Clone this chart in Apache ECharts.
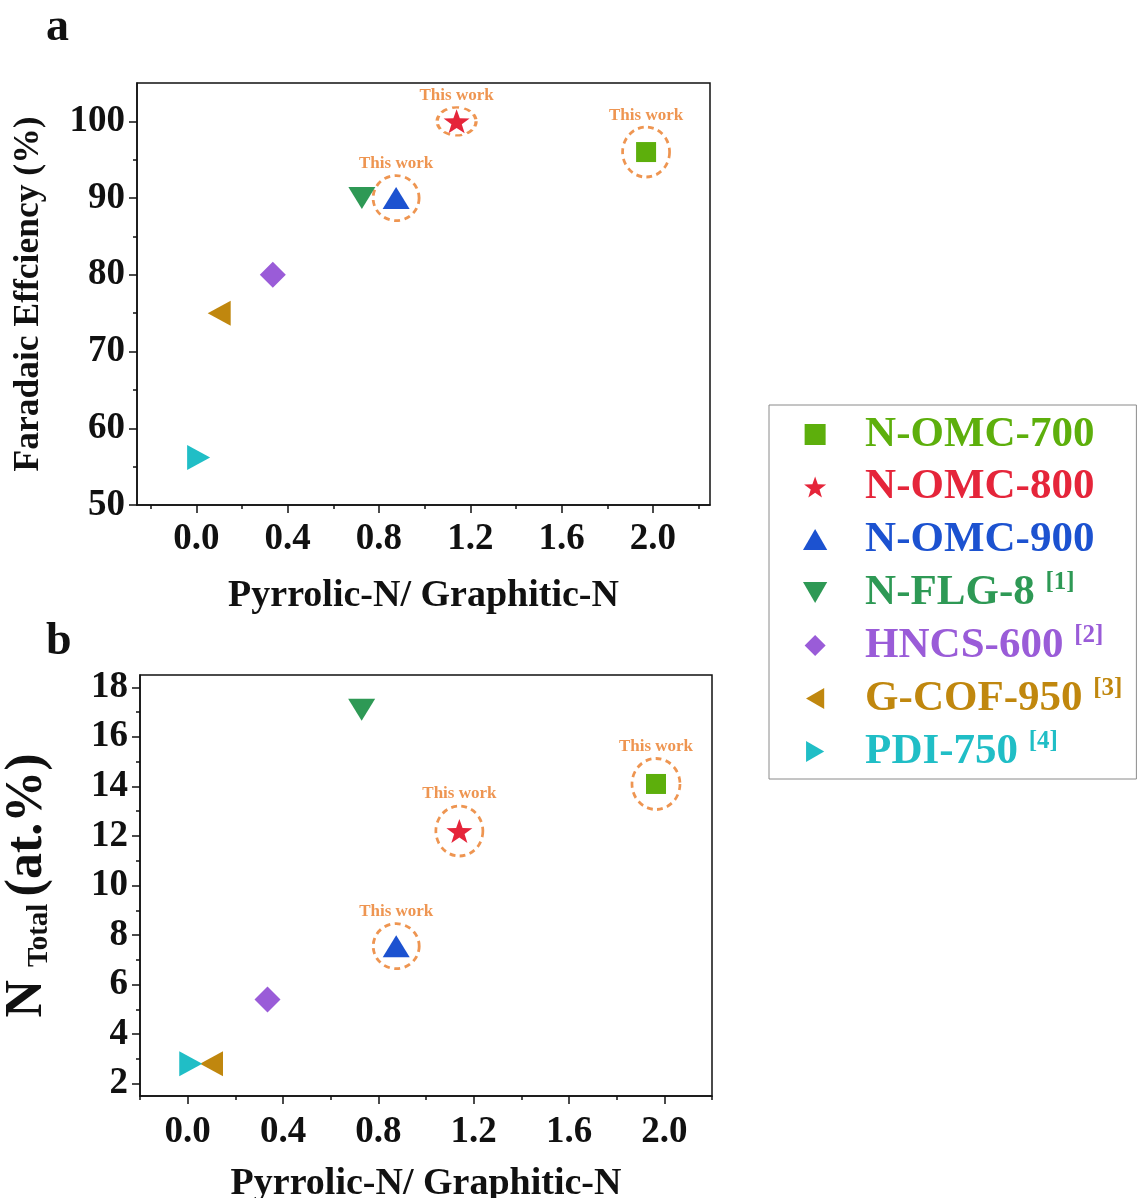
<!DOCTYPE html>
<html>
<head>
<meta charset="utf-8">
<script src="https://cdn.jsdelivr.net/npm/echarts@6/dist/echarts.min.js"></script>
<style>
html,body{margin:0;padding:0;background:#fff;}
#chart{width:1138px;height:1198px;}
</style>
</head>
<body>
<div id="chart"></div>
<script>
// ---------- data ----------
const materials = ['N-OMC-700', 'N-OMC-800', 'N-OMC-900', 'N-FLG-8', 'HNCS-600', 'G-COF-950', 'PDI-750'];
const refTags = ['', '', '', '[1]', '[2]', '[3]', '[4]'];
const thisWork = [true, true, true, false, false, false, false];
// panel a
const pyrrolicRatioA = [1.97, 1.14, 0.875, 0.725, 0.335, 0.10, 0.01];
const faradaicEfficiency = [96.0, 100.0, 90.0, 90.0, 80.0, 75.0, 56.2];
// panel b
const pyrrolicRatioB = [1.965, 1.14, 0.875, 0.73, 0.335, 0.10, 0.013];
const nTotal = [14.1, 12.2, 7.55, 17.1, 5.4, 2.8, 2.8];
// tick labels
const xMajorTicks = [0.0, 0.4, 0.8, 1.2, 1.6, 2.0];
const xMinorTicks = [-0.2, 0.2, 0.6, 1.0, 1.4, 1.8, 2.2];
const yMajorTicksA = [50, 60, 70, 80, 90, 100];
const yMinorTicksA = [55, 65, 75, 85, 95];
const yMajorTicksB = [2, 4, 6, 8, 10, 12, 14, 16, 18];
const yMinorTicksB = [3, 5, 7, 9, 11, 13, 15, 17];

// ---------- styles ----------
const FONT = "'Liberation Serif', 'Times New Roman', serif";
const colors = ['#5DAF0C', '#E5253A', '#1C52D0', '#2E9955', '#9A5CD8', '#C0870E', '#20BEC6'];
const ORANGE = '#EA7A25';
const STAR = 'path://M0,-10L2.35,-3.24L9.51,-3.09L3.8,1.24L5.88,8.09L0,4L-5.88,8.09L-3.8,1.24L-9.51,-3.09L-2.35,-3.24Z';
const symbols = [
  'path://M0,0H10V10H0Z',
  STAR,
  'path://M5,0L10,8.66L0,8.66Z',
  'path://M0,0L10,0L5,8.66Z',
  'path://M5,0L10,5L5,10L0,5Z',
  'path://M8.66,0L8.66,10L0,5Z',
  'path://M0,0L0,10L8.66,5Z'
];
const symbolSizes = [[20, 20], [26, 24], [27, 22], [27, 22], [26, 26], [23, 25], [23, 25]];
const circleSizesA = [[47, 50], [39, 28], [46, 45]];
const circleSizesB = [[48, 51], [47, 50], [46, 45]];

const axisColor = '#111';
function xAxes(g, min, max, labelMargin, nameGap) {
  return [{
    type: 'value', gridIndex: g, min: min, max: max, position: 'bottom',
    axisLine: {show: true, onZero: false, lineStyle: {color: axisColor, width: 1.5}},
    axisTick: {show: true, length: 8, lineStyle: {color: axisColor, width: 1.5}, customValues: xMajorTicks},
    axisLabel: {show: true, customValues: xMajorTicks, formatter: v => v.toFixed(1), margin: labelMargin,
      fontSize: 37, fontWeight: 'bold', color: axisColor, fontFamily: FONT},
    splitLine: {show: false},
    name: 'Pyrrolic-N/ Graphitic-N', nameLocation: 'middle', nameGap: nameGap,
    nameTextStyle: {fontSize: 38, fontWeight: 'bold', color: axisColor, fontFamily: FONT}
  }, {
    type: 'value', gridIndex: g, min: min, max: max, position: 'bottom',
    axisLine: {show: false, onZero: false},
    axisTick: {show: true, length: 4, lineStyle: {color: axisColor, width: 1.5}, customValues: xMinorTicks},
    axisLabel: {show: false}, splitLine: {show: false}
  }];
}
function yAxes(g, min, max, major, minor, name, nameGap, nameStyle) {
  return [{
    type: 'value', gridIndex: g, min: min, max: max, position: 'left',
    axisLine: {show: true, onZero: false, lineStyle: {color: axisColor, width: 1.5}},
    axisTick: {show: true, length: 8, lineStyle: {color: axisColor, width: 1.5}, customValues: major},
    axisLabel: {show: true, customValues: major, margin: 12,
      fontSize: 37, fontWeight: 'bold', color: axisColor, fontFamily: FONT},
    splitLine: {show: false},
    name: name, nameLocation: 'middle', nameRotate: 90, nameGap: nameGap, nameTextStyle: nameStyle
  }, {
    type: 'value', gridIndex: g, min: min, max: max, position: 'left',
    axisLine: {show: false, onZero: false},
    axisTick: {show: true, length: 4, lineStyle: {color: axisColor, width: 1.5}, customValues: minor},
    axisLabel: {show: false}, splitLine: {show: false}
  }];
}

const series = [];
function addPanel(g, xs, ys, circleSizes) {
  // dashed "This work" circles
  const cData = [];
  let k = 0;
  materials.forEach((m, i) => {
    if (thisWork[i]) { cData.push({value: [xs[i], ys[i]], symbolSize: circleSizes[k]}); k++; }
  });
  series.push({
    type: 'scatter', name: 'This work ' + g, xAxisIndex: g * 2, yAxisIndex: g * 2,
    data: cData, symbol: 'circle', silent: true, z: 1,
    itemStyle: {color: 'rgba(0,0,0,0)', borderColor: ORANGE, borderWidth: 2.8, borderType: [6, 4.5]},
    label: {show: true, position: 'top', distance: 2, formatter: 'This work', color: ORANGE,
      fontSize: 17, fontWeight: 'bold', fontFamily: FONT}
  });
  materials.forEach((m, i) => {
    series.push({
      type: 'scatter', name: m, xAxisIndex: g * 2, yAxisIndex: g * 2, z: 3,
      symbol: symbols[i], symbolSize: symbolSizes[i],
      itemStyle: {color: colors[i], opacity: 1},
      data: [[xs[i], ys[i]]]
    });
  });
}
addPanel(0, pyrrolicRatioA, faradaicEfficiency, circleSizesA);
addPanel(1, pyrrolicRatioB, nTotal, circleSizesB);

const rich = {};
colors.forEach((c, i) => {
  rich['m' + i] = {color: c, fontSize: 43, fontWeight: 'bold', fontFamily: FONT, lineHeight: 44};
  rich['s' + i] = {color: c, fontSize: 25, fontWeight: 'bold', fontFamily: FONT, lineHeight: 24, verticalAlign: 'top'};
});

const option = {
  animation: false,
  backgroundColor: '#fff',
  title: [
    {text: 'a', left: 46, top: 5, padding: 0, textStyle: {fontSize: 46, fontWeight: 'bold', color: '#111', fontFamily: FONT}},
    {text: 'b', left: 46, top: 619, padding: 0, textStyle: {fontSize: 46, fontWeight: 'bold', color: '#111', fontFamily: FONT}}
  ],
  grid: [
    {left: 137, top: 83, width: 573, height: 422, show: true, borderColor: axisColor, borderWidth: 1.5,
      containLabel: false, outerBoundsMode: 'none'},
    {left: 140, top: 675, width: 572, height: 421, show: true, borderColor: axisColor, borderWidth: 1.5,
      containLabel: false, outerBoundsMode: 'none'}
  ],
  xAxis: [].concat(xAxes(0, -0.26, 2.25, 16, 72), xAxes(1, -0.2, 2.2, 18, 69)),
  yAxis: [].concat(
    yAxes(0, 50, 105, yMajorTicksA, yMinorTicksA, 'Faradaic Effciency (%)', 90,
      {fontSize: 35.5, fontWeight: 'bold', color: axisColor, fontFamily: FONT}),
    yAxes(1, 1.5, 18.5, yMajorTicksB, yMinorTicksB, '{n|N }{t|Total }{n|(at.%)}', 86,
      {color: axisColor, rich: {
        n: {fontSize: 52, fontWeight: 'bold', color: axisColor, fontFamily: FONT, lineHeight: 56, verticalAlign: 'bottom'},
        t: {fontSize: 29, fontWeight: 'bold', color: axisColor, fontFamily: FONT, lineHeight: 32, verticalAlign: 'bottom'}
      }})
  ),
  legend: {
    orient: 'vertical', left: 769, top: 405,
    padding: [8, 14, 6, 34], itemGap: 9.5, itemWidth: 90, itemHeight: 21,
    borderColor: '#8a8a8a', borderWidth: 1, borderRadius: 0,
    symbolKeepAspect: true, selectedMode: false,
    data: materials.map((m, i) => ({name: m, icon: symbols[i], itemStyle: {color: colors[i]}})),
    formatter: function (name) {
      const i = materials.indexOf(name);
      return '{m' + i + '|' + name + (refTags[i] ? ' ' : '') + '}' + (refTags[i] ? '{s' + i + '|' + refTags[i] + '}' : '');
    },
    textStyle: {rich: rich}
  },
  series: series
};
const chart = echarts.init(document.getElementById('chart'), null, {renderer: 'canvas'});
chart.setOption(option);
</script>
</body>
</html>
